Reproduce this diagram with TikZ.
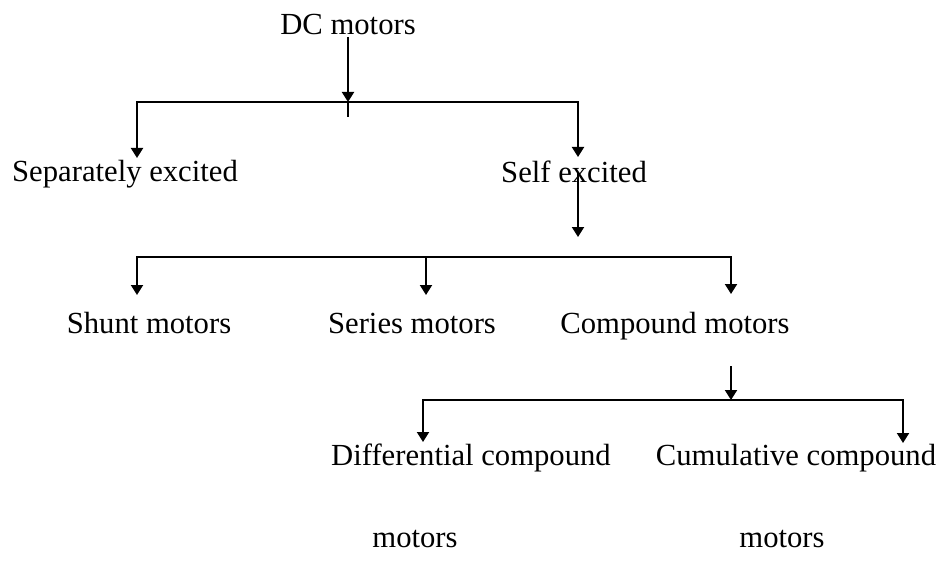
\documentclass[tikz,border=0pt]{standalone}
\usepackage{fontspec}
\setmainfont{Liberation Serif}
\usetikzlibrary{arrows.meta}
\begin{document}
\begin{tikzpicture}[x=0.75pt,y=-0.75pt,
  lbl/.style={anchor=base,inner sep=0pt,font=\fontsize{23}{28}\selectfont},
  ln/.style={line width=1.5pt},
  arr/.style={ln,-{Triangle[length=7.5pt,width=9pt]}}]
\useasboundingbox (0,0) rectangle (945,563);
% texts
\node[lbl] (dc)     at (348,35)  {DC motors};
\node[lbl] (sep)    at (125,181) {Separately excited};
\node[lbl] (self)   at (574,182) {Self excited};
\node[lbl] (shunt)  at (149,333) {Shunt motors};
\node[lbl] (series) at (412,333) {Series motors};
\node[lbl] (comp)   at (675,333) {Compound motors};
\node[lbl] (diff)   at (471,465) {Differential compound};
\node[lbl] (diffm)  at (415,547) {motors};
\node[lbl] (cum)    at (796,465) {Cumulative compound};
\node[lbl] (cumm)   at (782,547) {motors};
% level 1
\coordinate (a0) at (348,37);
\coordinate (aJ) at (348,102);
\coordinate (a2) at (348,117);
\coordinate (sepT) at (137,158);
\coordinate (selfT) at (578,157);
\draw[arr] (a0) -- (aJ);
\draw[ln] (aJ) -- (a2);
\draw[arr] (aJ) -| (sepT);
\draw[arr] (aJ) -| (selfT);
% level 2
\coordinate (s0) at (578,173);
\coordinate (s1) at (578,237);
\draw[arr] (s0) -- (s1);
\coordinate (cJ) at (426,257);
\coordinate (shT) at (137,295);
\coordinate (seT) at (426,295);
\coordinate (coT) at (731,294);
\draw[arr] (cJ) -| (shT);
\draw[arr] (cJ) -- (seT);
\draw[arr] (cJ) -| (coT);
% level 3
\coordinate (d0) at (731,366);
\coordinate (dJ) at (731,400);
\coordinate (diffT) at (423,442);
\coordinate (cumT) at (903,443);
\draw[arr] (d0) -- (dJ);
\draw[arr] (dJ) -| (diffT);
\draw[arr] (dJ) -| (cumT);
\end{tikzpicture}
\end{document}
